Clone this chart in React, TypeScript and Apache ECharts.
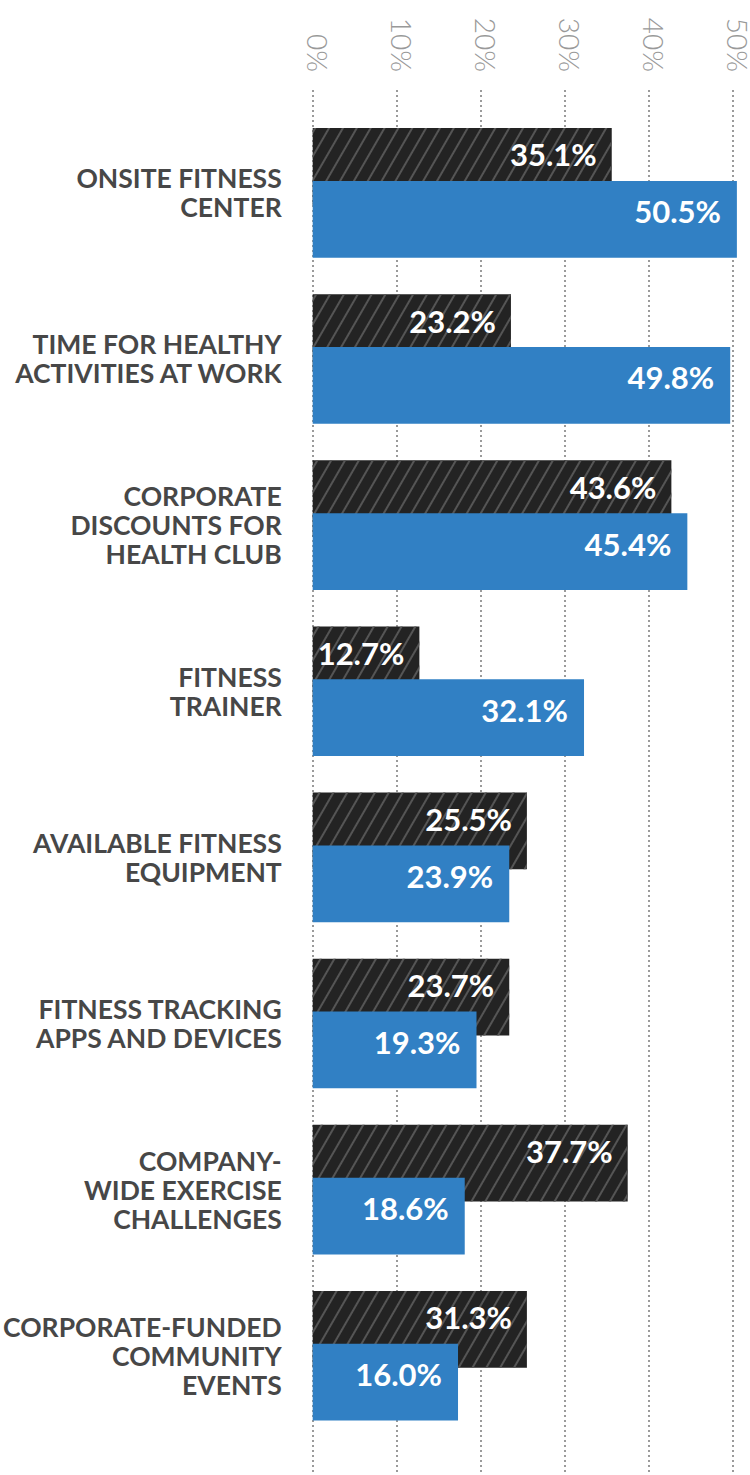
import React, { useEffect, useRef } from 'react';
import * as echarts from 'echarts';

const categories = [
  'ONSITE FITNESS\nCENTER',
  'TIME FOR HEALTHY\nACTIVITIES AT WORK',
  'CORPORATE\nDISCOUNTS FOR\nHEALTH CLUB',
  'FITNESS\nTRAINER',
  'AVAILABLE FITNESS\nEQUIPMENT',
  'FITNESS TRACKING\nAPPS AND DEVICES',
  'COMPANY-\nWIDE EXERCISE\nCHALLENGES',
  'CORPORATE-FUNDED\nCOMMUNITY\nEVENTS',
];

// bar lengths as drawn in the picture
const darkValues = [35.6, 23.6, 42.7, 12.7, 25.5, 23.4, 37.5, 25.5];
const blueValues = [50.5, 49.7, 44.6, 32.3, 23.4, 19.5, 18.1, 17.3];

// printed value labels
const darkLabels = ['35.1%', '23.2%', '43.6%', '12.7%', '25.5%', '23.7%', '37.7%', '31.3%'];
const blueLabels = ['50.5%', '49.8%', '45.4%', '32.1%', '23.9%', '19.3%', '18.6%', '16.0%'];

const xMin = 0;
const xMax = 50;
const xStep = 10;

const DARK = '#232323';
const BLUE = '#3180c4';
const FONT = 'Lato, "Open Sans", sans-serif';

export default function App() {
  const ref = useRef<HTMLDivElement>(null);
  useEffect(() => {
    if (!ref.current) return;
    const chart = echarts.init(ref.current, null, { renderer: 'svg' });
    const gridLeft = 312.7;
    const gridRight = 17.3;
    chart.setOption({
      animation: false,
      backgroundColor: '#ffffff',
      grid: [
        { left: gridLeft, right: gridRight, top: 90, bottom: 0, containLabel: false, outerBoundsMode: 'none' },
        { left: gridLeft, right: gridRight, top: 109.8, height: 1329, containLabel: false, outerBoundsMode: 'none' },
      ],
      xAxis: [
        {
          gridIndex: 0,
          type: 'value',
          position: 'top',
          min: xMin,
          max: xMax,
          interval: xStep,
          axisLine: { show: false },
          axisTick: { show: false },
          axisLabel: {
            rotate: -90,
            margin: 18,
            formatter: '{value}%',
            color: '#999999',
            fontSize: 28,
            fontFamily: FONT,
            fontWeight: 300,
            verticalAlign: 'bottom',
            lineHeight: 11,
          },
          splitLine: {
            show: true,
            lineStyle: { color: '#9a9a9a', width: 2, type: [2, 3] },
          },
        },
        { gridIndex: 1, type: 'value', min: xMin, max: xMax, show: false },
      ],
      yAxis: [
        { gridIndex: 0, type: 'value', show: false },
        {
          gridIndex: 1,
          type: 'category',
          inverse: true,
          data: categories,
          axisLine: { show: false },
          axisTick: { show: false },
          splitLine: { show: false },
          axisLabel: {
            margin: 31,
            align: 'right',
            color: '#474747',
            fontSize: 26.5,
            lineHeight: 29,
            fontWeight: 'bold',
            fontFamily: FONT,
          },
        },
      ],
      series: [
        {
          type: 'bar',
          xAxisIndex: 1,
          yAxisIndex: 1,
          data: darkValues,
          barWidth: 76.7,
          barGap: '-31%',
          clip: false,
          itemStyle: {
            color: DARK,
            decal: {
              symbol: 'rect',
              symbolSize: 1,
              color: '#555555',
              dashArrayX: [1, 0],
              dashArrayY: [1.2, 9.2],
              rotation: -Math.PI / 3,
            },
          },
          label: {
            show: true,
            position: 'insideRight',
            distance: 15,
            offset: [0, -12],
            formatter: (p: any) => darkLabels[p.dataIndex],
            color: '#ffffff',
            fontSize: 31,
            fontWeight: 'bold',
            fontFamily: FONT,
          },
        },
        {
          type: 'bar',
          xAxisIndex: 1,
          yAxisIndex: 1,
          data: blueValues,
          barWidth: 76.7,
          barGap: '-31%',
          clip: false,
          itemStyle: { color: BLUE },
          label: {
            show: true,
            position: 'insideRight',
            distance: 16,
            offset: [0, -8],
            formatter: (p: any) => blueLabels[p.dataIndex],
            color: '#ffffff',
            fontSize: 31,
            fontWeight: 'bold',
            fontFamily: FONT,
          },
        },
      ],
    });
    return () => chart.dispose();
  }, []);
  return (
    <div style={{ position: 'absolute', left: 0, top: 0, width: 750, height: 1475 }}>
      <div ref={ref} style={{ width: 750, height: 1475 }} />
    </div>
  );
}
